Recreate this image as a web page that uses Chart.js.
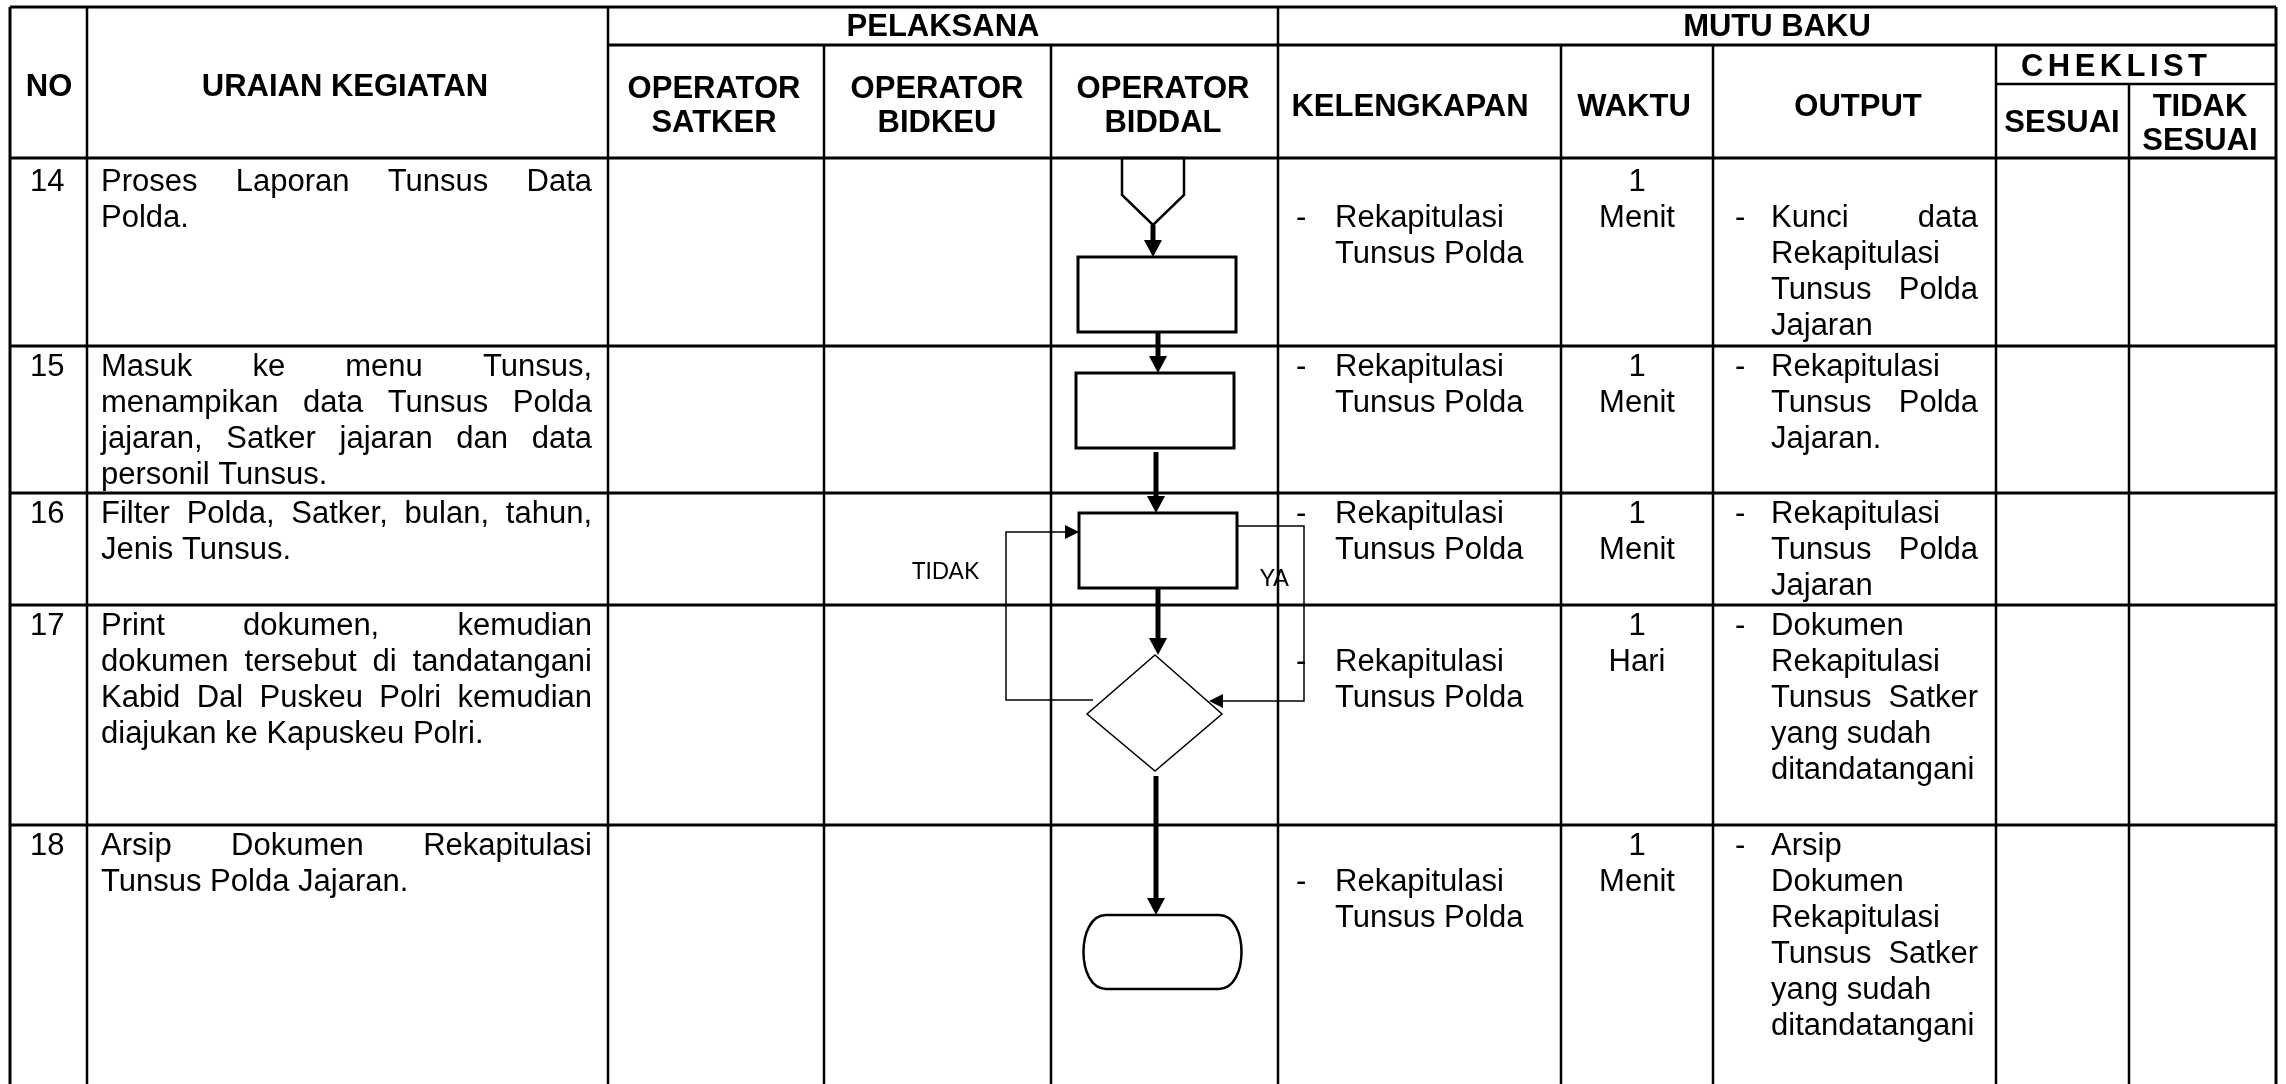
<!DOCTYPE html>
<html>
<head>
<meta charset="utf-8">
<script src="https://cdn.jsdelivr.net/npm/chart.js@4.4.1/dist/chart.umd.min.js"></script>
<style>
  html, body { margin: 0; padding: 0; background: #fff; overflow: hidden; }
  canvas { display: block; }
</style>
</head>
<body>
<canvas id="sop" width="2286" height="1084"></canvas>
<script>
// table content
const rowNo = ["14", "15", "16", "17", "18"];
const uraian = [
  ["Proses Laporan Tunsus Data", "Polda."],
  ["Masuk ke menu Tunsus,", "menampikan data Tunsus Polda", "jajaran, Satker jajaran dan data", "personil Tunsus."],
  ["Filter Polda, Satker, bulan, tahun,", "Jenis Tunsus."],
  ["Print dokumen, kemudian", "dokumen tersebut di tandatangani", "Kabid Dal Puskeu Polri kemudian", "diajukan ke Kapuskeu Polri."],
  ["Arsip Dokumen Rekapitulasi", "Tunsus Polda Jajaran."]
];
const kelengkapan = [
  ["Rekapitulasi", "Tunsus Polda"],
  ["Rekapitulasi", "Tunsus Polda"],
  ["Rekapitulasi", "Tunsus Polda"],
  ["Rekapitulasi", "Tunsus Polda"],
  ["Rekapitulasi", "Tunsus Polda"]
];
const waktu = [["1", "Menit"], ["1", "Menit"], ["1", "Menit"], ["1", "Hari"], ["1", "Menit"]];
const output = [
  ["Kunci data", "Rekapitulasi", "Tunsus Polda", "Jajaran"],
  ["Rekapitulasi", "Tunsus Polda", "Jajaran."],
  ["Rekapitulasi", "Tunsus Polda", "Jajaran"],
  ["Dokumen", "Rekapitulasi", "Tunsus Satker", "yang sudah", "ditandatangani"],
  ["Arsip", "Dokumen", "Rekapitulasi", "Tunsus Satker", "yang sudah", "ditandatangani"]
];
const groupHeaders = ["PELAKSANA", "MUTU BAKU", "CHEKLIST"];
const colHeaders = ["NO", "URAIAN KEGIATAN", "OPERATOR\nSATKER", "OPERATOR\nBIDKEU", "OPERATOR\nBIDDAL",
  "KELENGKAPAN", "WAKTU", "OUTPUT", "SESUAI", "TIDAK\nSESUAI"];
const branchLabels = ["TIDAK", "YA"];

// layout (canvas units)
const W = 2286, H = 1084;
const FS = 31, HS = 1.0, LH = 36;
const colX = [10, 87, 608, 824, 1051, 1278, 1561, 1713, 1996, 2129, 2276];
const rowY = [158, 346, 493, 605, 825];
const firstLine = [180, 365, 512, 624, 844];
const kelStart = [1, 0, 0, 1, 1];
const outStart = [1, 0, 0, 0, 0];
const outJust = [[1, 0, 1, 0], [0, 1, 0], [0, 1, 0], [0, 0, 1, 0, 0], [0, 0, 0, 1, 0, 0]];

const sopPlugin = {
  id: "sop",
  afterDraw(chart) {
    const { ctx, scales: { x, y } } = chart;
    const px = v => x.getPixelForValue(v);
    const py = v => y.getPixelForValue(v);
    const font = b => (b ? "bold " : "") + FS + 'px "Liberation Sans", Arial, sans-serif';

    ctx.save();
    ctx.fillStyle = "#fff";
    ctx.fillRect(0, 0, chart.width, chart.height);
    ctx.strokeStyle = "#000";
    ctx.fillStyle = "#000";
    ctx.lineCap = "butt";
    ctx.lineJoin = "miter";

    const line = (pts, w) => {
      ctx.beginPath();
      pts.forEach((p, i) => i ? ctx.lineTo(px(p[0]), py(p[1])) : ctx.moveTo(px(p[0]), py(p[1])));
      ctx.lineWidth = w;
      ctx.stroke();
    };
    const poly = (pts, w) => {
      ctx.beginPath();
      pts.forEach((p, i) => i ? ctx.lineTo(px(p[0]), py(p[1])) : ctx.moveTo(px(p[0]), py(p[1])));
      ctx.closePath();
      ctx.lineWidth = w;
      ctx.stroke();
    };
    const head = (tx, ty, dir, len, half) => {
      ctx.beginPath();
      ctx.moveTo(px(tx), py(ty));
      if (dir === "down") { ctx.lineTo(px(tx - half), py(ty - len)); ctx.lineTo(px(tx + half), py(ty - len)); }
      if (dir === "right") { ctx.lineTo(px(tx - len), py(ty - half)); ctx.lineTo(px(tx - len), py(ty + half)); }
      if (dir === "left") { ctx.lineTo(px(tx + len), py(ty - half)); ctx.lineTo(px(tx + len), py(ty + half)); }
      ctx.closePath();
      ctx.fill();
    };
    const downArrow = (ax, y0, y1) => {
      line([[ax, y0], [ax, y1 - 12]], 5);
      head(ax, y1, "down", 17, 9);
    };

    // text helpers
    const txt = (s, tx, ty, align, bold) => {
      ctx.font = font(bold);
      const w = ctx.measureText(s).width * HS;
      const x0 = align === "center" ? tx - w / 2 : tx;
      ctx.save();
      ctx.translate(px(x0), py(ty));
      ctx.scale(HS, 1);
      ctx.fillText(s, 0, 0);
      ctx.restore();
    };
    const justify = (s, left, right, ty) => {
      ctx.font = font(false);
      const words = s.split(" ");
      if (words.length < 2) { txt(s, left, ty, "left", false); return; }
      const ws = words.map(wd => ctx.measureText(wd).width * HS);
      const gap = (right - left - ws.reduce((a, b) => a + b, 0)) / (words.length - 1);
      let cx = left;
      words.forEach((wd, i) => { txt(wd, cx, ty, "left", false); cx += ws[i] + gap; });
    };
    const spaced = (s, cx, ty, width) => {
      ctx.font = font(true);
      const chars = s.split("");
      const ws = chars.map(c => ctx.measureText(c).width * HS);
      const gap = (width - ws.reduce((a, b) => a + b, 0)) / (chars.length - 1);
      let xx = cx - width / 2;
      chars.forEach((c, i) => { txt(c, xx, ty, "left", true); xx += ws[i] + gap; });
    };
    const fitted = (s, left, base, width, size) => {
      ctx.font = size + 'px Lato, "Open Sans", sans-serif';
      const k = width / ctx.measureText(s).width;
      ctx.save();
      ctx.translate(px(left), py(base));
      ctx.scale(k, 1);
      ctx.fillText(s, 0, 0);
      ctx.restore();
    };

    // grid
    const L = colX[0], R = colX[colX.length - 1];
    line([[L, 7], [R, 7]], 3);
    line([[colX[2], 45], [R, 45]], 3);
    line([[colX[8], 84], [R, 84]], 2.5);
    rowY.forEach(ry => line([[L, ry], [R, ry]], 3));
    const vTop = [7, 7, 7, 45, 45, 7, 45, 45, 45, 84, 7];
    colX.forEach((cx, i) => line([[cx, vTop[i]], [cx, H + 2]], i === 0 || i === colX.length - 1 ? 3 : 2.5));

    // header labels
    ctx.textBaseline = "alphabetic";
    txt(groupHeaders[0], (colX[2] + colX[5]) / 2, 36, "center", true);
    txt(groupHeaders[1], (colX[5] + colX[10]) / 2, 36, "center", true);
    spaced(groupHeaders[2], 2114, 76, 186);
    const hdrCx = [49, 345, 714, 937, 1163, 1410, 1634, 1858, 2062, 2200];
    const hdrBase = [96, 96, 98, 98, 98, 116, 116, 116, 132, 116];
    colHeaders.forEach((h, i) => {
      h.split("\n").forEach((part, j) => txt(part, hdrCx[i], hdrBase[i] + j * 34, "center", true));
    });

    // body rows
    rowNo.forEach((no, r) => {
      const base = k => firstLine[r] + k * LH + 11;
      txt(no, 30, base(0), "left", false);
      uraian[r].forEach((ln, k) => {
        if (k < uraian[r].length - 1) justify(ln, 101, 592, base(k));
        else txt(ln, 101, base(k), "left", false);
      });
      txt("-", 1296, base(kelStart[r]), "left", false);
      kelengkapan[r].forEach((ln, k) => txt(ln, 1335, base(kelStart[r] + k), "left", false));
      waktu[r].forEach((ln, k) => txt(ln, 1637, base(k), "center", false));
      txt("-", 1735, base(outStart[r]), "left", false);
      output[r].forEach((ln, k) => {
        if (outJust[r][k]) justify(ln, 1771, 1978, base(outStart[r] + k));
        else txt(ln, 1771, base(outStart[r] + k), "left", false);
      });
    });

    // flowchart in OPERATOR BIDDAL lane
    poly([[1122, 158], [1184, 158], [1184, 195], [1153, 225], [1122, 195]], 2.5);
    downArrow(1153, 225, 257);
    poly([[1078, 257], [1236, 257], [1236, 332], [1078, 332]], 3);
    downArrow(1158, 332, 373);
    poly([[1076, 373], [1234, 373], [1234, 448], [1076, 448]], 3);
    downArrow(1156, 452, 513);
    poly([[1079, 513], [1237, 513], [1237, 588], [1079, 588]], 3);
    downArrow(1158, 588, 655);
    poly([[1155, 655], [1222, 714], [1155, 771], [1087, 714]], 1.5);
    downArrow(1156, 776, 915);

    // terminator
    ctx.beginPath();
    ctx.lineWidth = 2.5;
    const tl = px(1078), tr = px(1247), tt = py(915), tb = py(989), rr = 28;
    ctx.moveTo(tl + rr, tt);
    ctx.lineTo(tr - rr, tt);
    ctx.bezierCurveTo(tr + 2, tt, tr + 2, tb, tr - rr, tb);
    ctx.lineTo(tl + rr, tb);
    ctx.bezierCurveTo(tl - 2, tb, tl - 2, tt, tl + rr, tt);
    ctx.closePath();
    ctx.stroke();

    // TIDAK loop back
    line([[1093, 700], [1006, 700], [1006, 532], [1066, 532]], 1.5);
    head(1079, 532, "right", 14, 7);
    // YA loop
    line([[1237, 526], [1304, 526], [1304, 701], [1222, 701]], 1.5);
    head(1209, 701, "left", 14, 7);

    fitted(branchLabels[0], 912, 579, 67, 24);
    fitted(branchLabels[1], 1260, 586, 29, 24);

    ctx.restore();
  }
};

const ctx = document.getElementById("sop").getContext("2d");
new Chart(ctx, {
  type: "scatter",
  data: { datasets: [{ data: [], pointRadius: 0 }] },
  options: {
    responsive: false,
    animation: false,
    events: [],
    layout: { padding: 0 },
    plugins: { legend: { display: false }, tooltip: { enabled: false } },
    scales: {
      x: { type: "linear", min: 0, max: W, display: false },
      y: { type: "linear", min: 0, max: H, reverse: true, display: false }
    }
  },
  plugins: [sopPlugin]
});
</script>
</body>
</html>
